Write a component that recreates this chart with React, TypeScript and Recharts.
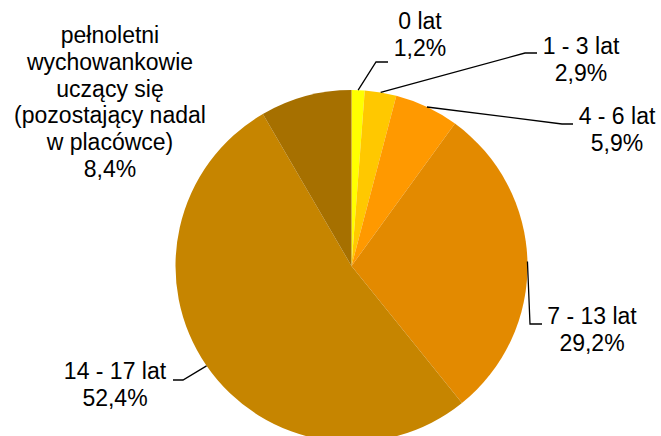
import { PieChart, Pie, Cell } from 'recharts';

// Udział wychowanków wg grup wieku (%)
const categories = [
  '0 lat',
  '1 - 3 lat',
  '4 - 6 lat',
  '7 - 13 lat',
  '14 - 17 lat',
  'pełnoletni wychowankowie uczący się (pozostający nadal w placówce)',
];
const shares = [1.2, 2.9, 5.9, 29.2, 52.4, 8.4];
const percentLabels = ['1,2%', '2,9%', '5,9%', '29,2%', '52,4%', '8,4%'];

// label text split into lines (name lines, then percent)
const labelLines = [
  ['0 lat'],
  ['1 - 3 lat'],
  ['4 - 6 lat'],
  ['7 - 13 lat'],
  ['14 - 17 lat'],
  ['pełnoletni', 'wychowankowie', 'uczący się', '(pozostający nadal', 'w placówce)'],
];

const colors = ['#FFFF00', '#FFC800', '#FF9900', '#E38A00', '#C68500', '#A67000'];

// label placement: text centre x, first baseline y, leader elbow + end (null = no leader)
const labelLayout = [
  { tx: 420, ty: 29, elbow: [376, 62], end: [388, 62] },
  { tx: 581, ty: 54, elbow: [525, 53], end: [537, 53] },
  { tx: 617, ty: 124, elbow: [562, 124], end: [573, 124] },
  { tx: 592, ty: 324, elbow: [530, 324], end: [542, 324] },
  { tx: 115, ty: 379, elbow: [183, 380], end: [173, 380] },
  { tx: 110, ty: 43, elbow: null, end: null },
];

const data = categories.map((name, i) => ({ name, value: shares[i] }));

const RADIAN = Math.PI / 180;
const LINE_H = 26.8;

const renderLabel = (props: any) => {
  const { cx, cy, midAngle, outerRadius, index } = props;
  const layout = labelLayout[index];
  const ax = cx + outerRadius * Math.cos(-midAngle * RADIAN);
  const ay = cy + outerRadius * Math.sin(-midAngle * RADIAN);
  const lines = [...labelLines[index], percentLabels[index]];
  return (
    <g key={`lbl-${index}`}>
      {layout.elbow && layout.end && (
        <polyline
          points={`${ax},${ay} ${layout.elbow[0]},${layout.elbow[1]} ${layout.end[0]},${layout.end[1]}`}
          fill="none"
          stroke="#000000"
          strokeWidth={1.3}
        />
      )}
      <text
        x={layout.tx}
        y={layout.ty}
        textAnchor="middle"
        fill="#000000"
        style={{ fontFamily: '"Liberation Sans", Arial, sans-serif', fontSize: 23 }}
      >
        {lines.map((line, li) => (
          <tspan key={li} x={layout.tx} y={layout.ty + li * LINE_H}>
            {line}
          </tspan>
        ))}
      </text>
    </g>
  );
};

export default function App() {
  return (
    <div style={{ position: 'absolute', left: 0, top: 0, width: 661, height: 436, background: '#ffffff' }}>
      <PieChart width={661} height={436} margin={{ top: 0, right: 0, bottom: 0, left: 0 }}>
        <Pie
          data={data}
          dataKey="value"
          nameKey="name"
          cx={351.5}
          cy={266}
          outerRadius={176}
          startAngle={90}
          endAngle={-270}
          stroke="none"
          label={renderLabel}
          labelLine={false}
          isAnimationActive={false}
        >
          {data.map((_, i) => (
            <Cell key={`cell-${i}`} fill={colors[i]} />
          ))}
        </Pie>
      </PieChart>
    </div>
  );
}
